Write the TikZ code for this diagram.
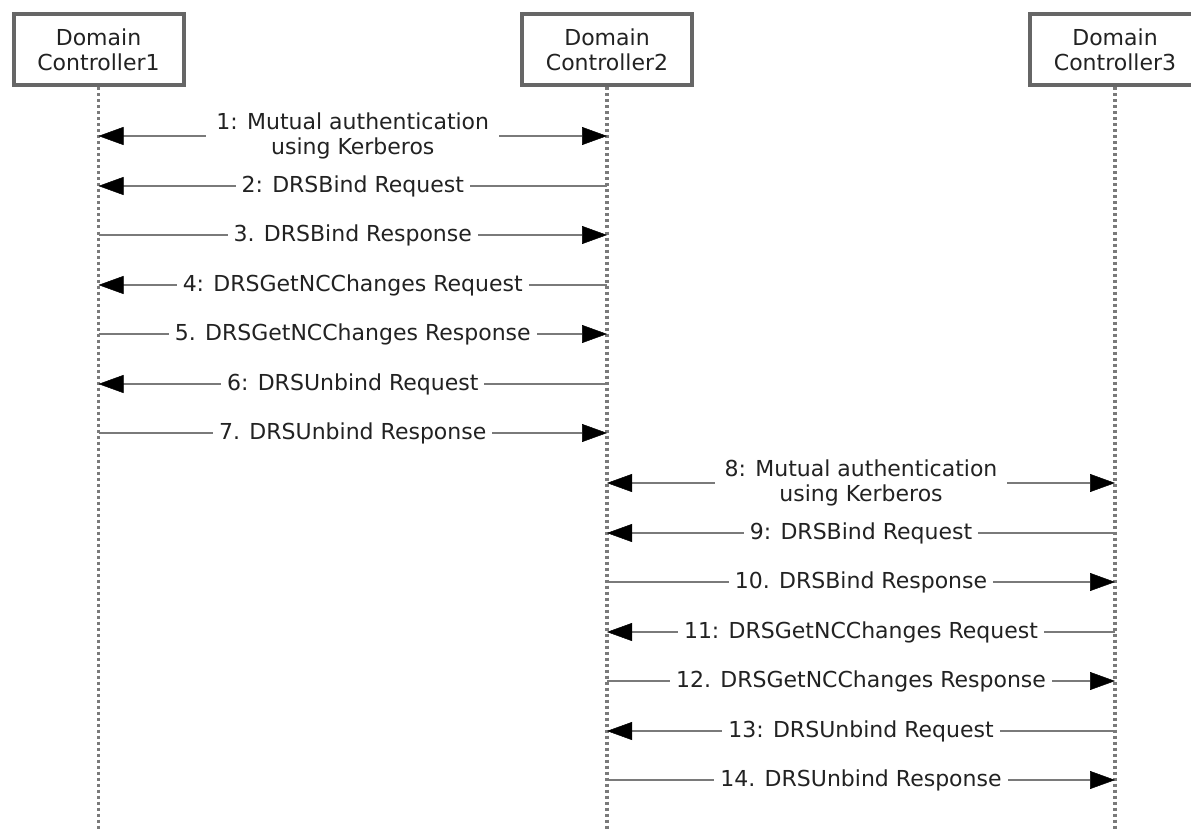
\documentclass[tikz,border=0pt]{standalone}
\usepackage{fontspec}
\setmainfont{DejaVu Sans}
\usetikzlibrary{arrows.meta}
\definecolor{boxgray}{HTML}{666666}
\definecolor{linegray}{HTML}{7A7A7A}
\definecolor{txt}{HTML}{222222}
\begin{document}
\begin{tikzpicture}[x=1pt,y=-1pt,
  actor/.style={draw=boxgray,line width=4pt,fill=white,minimum width=170pt,minimum height=71pt,
    align=center,text=txt,font=\fontsize{22}{25}\selectfont,inner sep=0pt},
  lifeline/.style={draw=linegray,line width=3.2pt,dash pattern=on 3pt off 3pt},
  msg/.style={draw=linegray,line width=2.8pt,-{Triangle[length=25pt,width=18pt,color=black,line width=0.5pt]}},
  bimsg/.style={draw=linegray,line width=2.8pt,{Triangle[length=25pt,width=18pt,color=black,line width=0.5pt]}-{Triangle[length=25pt,width=18pt,color=black,line width=0.5pt]}},
  lbl/.style={fill=white,text=txt,font=\fontsize{22}{25}\selectfont,inner xsep=6pt,inner ysep=1pt,align=center}
]
\clip (0,0) rectangle (1191,829);
\fill[white] (0,0) rectangle (1191,829);

\node[actor] (dc1) at (98.5,50) {Domain\\Controller1};
\node[actor] (dc2) at (607,50) {Domain\\Controller2};
\node[actor] (dc3) at (1115,50) {Domain\\Controller3};

\coordinate (e1) at (98.5,835);
\coordinate (e2) at (607,835);
\coordinate (e3) at (1115,835);
\draw[lifeline] (dc1.south) -- (e1);
\draw[lifeline] (dc2.south) -- (e2);
\draw[lifeline] (dc3.south) -- (e3);

\draw[bimsg] (dc1 |- 0,136) -- node[lbl,inner xsep=10pt]{1: Mutual authentication\\using Kerberos} (dc2 |- 0,136);
\draw[bimsg] (dc2 |- 0,483) -- node[lbl,inner xsep=10pt]{8: Mutual authentication\\using Kerberos} (dc3 |- 0,483);

\foreach \y/\src/\dst/\lab in {
  186/dc2/dc1/{2: DRSBind Request},
  235/dc1/dc2/{3. DRSBind Response},
  285/dc2/dc1/{4: DRSGetNCChanges Request},
  334/dc1/dc2/{5. DRSGetNCChanges Response},
  384/dc2/dc1/{6: DRSUnbind Request},
  433/dc1/dc2/{7. DRSUnbind Response},
  533/dc3/dc2/{9: DRSBind Request},
  582/dc2/dc3/{10. DRSBind Response},
  632/dc3/dc2/{11: DRSGetNCChanges Request},
  681/dc2/dc3/{12. DRSGetNCChanges Response},
  731/dc3/dc2/{13: DRSUnbind Request},
  780/dc2/dc3/{14. DRSUnbind Response}}
  {\draw[msg] (\src |- 0,\y) -- node[lbl]{\lab} (\dst |- 0,\y);}
\end{tikzpicture}
\end{document}
